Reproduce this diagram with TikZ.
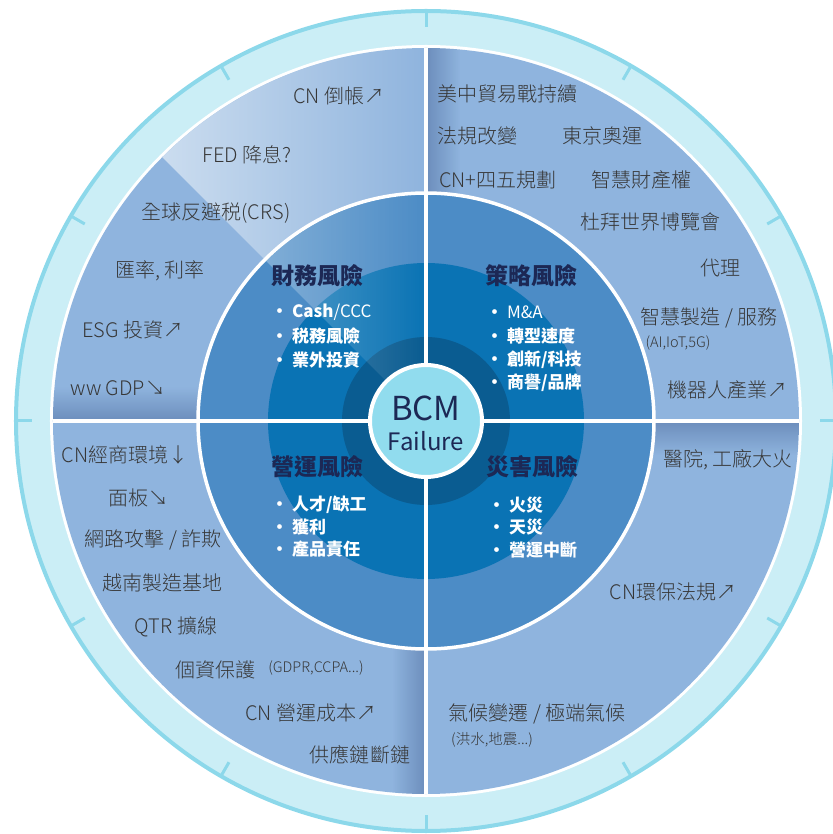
\documentclass[tikz,border=0pt]{standalone}
\usepackage{fontspec}
\setmainfont{Noto Sans CJK TC}
\newfontfamily\thinfont{Noto Sans CJK TC Light}
\usetikzlibrary{fadings}
\definecolor{bandcyan}{RGB}{203,238,246}
\definecolor{edgecyan}{RGB}{140,216,234}
\definecolor{ringblue}{RGB}{143,180,222}
\definecolor{ringdark}{RGB}{105,135,182}
\definecolor{shadow}{RGB}{80,110,160}
\definecolor{hilite}{RGB}{205,222,240}
\definecolor{midblue}{RGB}{76,140,198}
\definecolor{innerblue}{RGB}{10,115,180}
\definecolor{darkblue}{RGB}{10,92,145}
\definecolor{centercyan}{RGB}{145,220,238}
\definecolor{navy}{RGB}{28,40,85}
\definecolor{txtgray}{RGB}{55,55,55}
\pgfdeclareradialshading{rimshade}{\pgfpoint{0bp}{0bp}}{color(0bp)=(ringblue); color(46bp)=(ringblue); color(50bp)=(ringdark)}
\begin{document}
\begin{tikzpicture}[x=1pt,y=1pt,
    outer/.style={text=txtgray,font=\thinfont\fontsize{20}{24}\selectfont,inner sep=0pt},
    small/.style={text=txtgray,font=\thinfont\fontsize{14.5}{16}\selectfont,inner sep=0pt},
    title/.style={text=navy,font=\fontsize{23}{27}\selectfont\bfseries,inner sep=0pt},
    item/.style={text=white,font=\fontsize{17}{20}\selectfont\bfseries,anchor=west,inner sep=0pt},
    tick/.style={edgecyan,line width=3pt},
    divider/.style={white,line width=3.5pt},
    edgeshade/.style={shadow,opacity=0.55}]
	\useasboundingbox (-426,-413) rectangle (406,421);
	\fill [bandcyan] (0,0) circle [radius=410];
	\draw [edgecyan,line width=4pt] (0,0) circle [radius=410];
	\foreach \a in {0,30,...,330}{
		\draw [tick] (\a:394) -- (\a:410);
	}
	\fill [white] (0,0) circle [radius=376];
	\shade [shading=rimshade] (0,0) circle [radius=373];
	\begin{scope}
		\clip (0,0) circle [radius=373];
		\fill [edgeshade,path fading=north] (-373,0) rectangle (0,34);
		\fill [edgeshade,path fading=south] (0,0) rectangle (373,-34);
		\fill [edgeshade,path fading=east] (0,0) rectangle (34,373);
		\fill [edgeshade,path fading=west] (-34,0) rectangle (0,-373);
	\end{scope}
	\begin{scope}
		\clip (0,0) -- (90:373) arc [start angle=90,end angle=135,radius=373] -- cycle;
		\fill [hilite,path fading=east] (-270,0) rectangle (0,373);
	\end{scope}
	\fill [midblue] (0,0) circle [radius=228];
	\draw [white,line width=3.5pt] (0,0) circle [radius=228];
	\fill [innerblue] (0,0) circle [radius=158];
	\fill [darkblue] (0,0) circle [radius=84];
	\begin{scope}
		\clip (0,0) -- (90:226) arc [start angle=90,end angle=135,radius=226] -- cycle;
		\fill [white,opacity=0.3,path fading=east] (-165,0) rectangle (0,226);
	\end{scope}
	\draw [divider] (0,373) -- (0,-373);
	\draw [divider] (-373,0) -- (373,0);
	\node [circle,fill=centercyan,draw=white,line width=4pt,minimum size=112pt] at (0,0) (core) {};
	\begin{scope}[shift={(-426,421)},y=-1pt]
		\node [text=navy,font=\fontsize{33}{36}\selectfont] at (426,408) (bcm) {BCM};
		\node [text=navy,font=\fontsize{24}{26}\selectfont] at (426,441) (fail) {Failure};
		\node [title] at (318,276) (fin) {財務風險};
		\node [title] at (531,276) (strat) {策略風險};
		\node [title] at (318,467) (oper) {營運風險};
		\node [title] at (532,467) (dis) {災害風險};
		\foreach \t [count=\k] in {{Cash{\mdseries /CCC}},税務風險,業外投資}{
			\node [item] at (271,312+24*\k-24) (fin\k) {• \t};
		}
		\foreach \t [count=\k] in {{\mdseries M\&A},轉型速度,{創新/科技},{商譽/品牌}}{
			\node [item] at (486,312+23.7*\k-23.7) (strat\k) {• \t};
		}
		\foreach \t [count=\k] in {{人才/缺工},獲利,產品責任}{
			\node [item] at (271,505+22*\k-22) (oper\k) {• \t};
		}
		\foreach \t [count=\k] in {火災,天災,營運中斷}{
			\node [item] at (488,505+22.5*\k-22.5) (dis\k) {• \t};
		}
		\foreach \x/\y/\t [count=\k] in {339/96/{CN 倒帳↗}, 247/155/{FED 降息?}, 216/213/{全球反避税(CRS)}, 160/271/{匯率, 利率}, 133/330/{ESG 投資↗}, 118/388/{ww GDP↘}, 507/94/{美中貿易戰持續}, 477/136/{法規改變}, 602/136/{東京奧運}, 498/180/{CN+四五規劃}, 641/180/{智慧財產權}, 650/222/{杜拜世界博覽會}, 720/268/{代理}, 709/318/{智慧製造 / 服務}, 727/390/{機器人產業↗}, 125/455/{CN經商環境↓}, 139/498/{面板↘}, 153/540/{網路攻擊 / 詐欺}, 163/583/{越南製造基地}, 176/627/{QTR 擴線}, 216/670/{個資保護}, 311/713/{CN 營運成本↗}, 360/755/{供應鏈斷鏈}, 728/460/{醫院, 工廠大火}, 673/592/{CN環保法規↗}, 537/714/{氣候變遷 / 極端氣候}}{
			\node [outer] at (\x,\y) (risk\k) {\t};
		}
		\node [small] at (678,343) (aiot) {(AI,IoT,5G)};
		\node [small] at (316,668) (gdpr) {(GDPR,CCPA...)};
		\node [small] at (492,740) (flood) {(洪水,地震...)};
	\end{scope}
\end{tikzpicture}
\end{document}
